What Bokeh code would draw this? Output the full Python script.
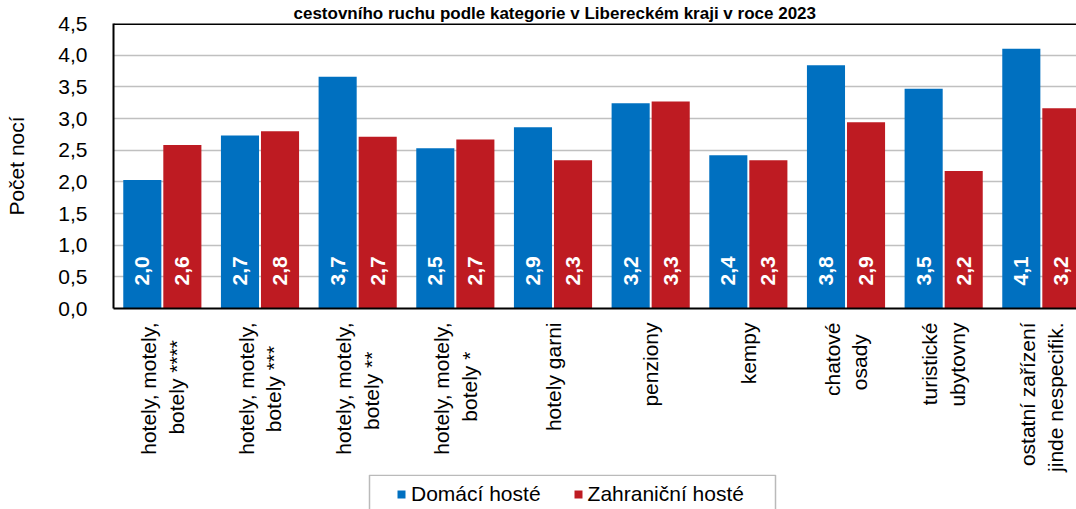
from math import pi
from bokeh.plotting import figure
from bokeh.layouts import column
from bokeh.models import (ColumnDataSource, Range1d, FixedTicker,
                          CustomJSTickFormatter, Legend, LegendItem, Span,
                          BoxAnnotation)
from bokeh.transform import dodge
from bokeh.core.properties import value
from bokeh.embed import file_html
from bokeh.resources import INLINE

# ---------------- data ----------------
title_text = "cestovního ruchu podle kategorie v Libereckém kraji v roce 2023"
y_axis_title = "Počet nocí"
categories = [
    "hotely, motely,\nbotely ****",
    "hotely, motely,\nbotely ***",
    "hotely, motely,\nbotely **",
    "hotely, motely,\nbotely *",
    "hotely garni",
    "penziony",
    "kempy",
    "chatové\nosady",
    "turistické\nubytovny",
    "ostatní zařízení\njinde nespecifik.",
]
series_names = ["Domácí hosté", "Zahraniční hosté"]
domaci = [2.03, 2.73, 3.66, 2.53, 2.86, 3.24, 2.42, 3.84, 3.47, 4.10]
zahranicni = [2.58, 2.80, 2.71, 2.67, 2.34, 3.27, 2.34, 2.94, 2.17, 3.16]
y_ticks = [0.0, 0.5, 1.0, 1.5, 2.0, 2.5, 3.0, 3.5, 4.0, 4.5]
colors = ["#0070C0", "#BE1B22"]

# no-break spaces appended to a short second line so it sits centred
# under the first one (the rotated labels are end-aligned by Bokeh)
second_line_pad = [3, 4, 5, 5, 0, 0, 0, 2, 0, 0]

FONT = "Liberation Sans"
FS = "21px"


def fmt(v):
    return f"{v:.1f}".replace(".", ",")


n = len(categories)
pos = [i + 0.5 for i in range(n)]
tick_labels = [c + "\u00a0" * k if "\n" in c else c
               for c, k in zip(categories, second_line_pad)]

src = ColumnDataSource(dict(
    x=pos,
    dom=domaci,
    zah=zahranicni,
    dom_lbl=[fmt(v) for v in domaci],
    zah_lbl=[fmt(v) for v in zahranicni],
    base=[0.0] * n,
))

fig = figure(width=1076, height=474,
             x_range=Range1d(0, 9.86), y_range=Range1d(0, 4.5),
             output_backend="svg", toolbar_location=None,
             min_border_left=113, min_border_right=0,
             min_border_top=22, min_border_bottom=164,
             outline_line_color=None, background_fill_color="white",
             border_fill_color="white")

# title (visible part of the original title)
fig.title.text = title_text
fig.title.text_font = FONT
fig.title.text_font_size = "17px"
fig.title.text_font_style = "bold"
fig.title.text_color = "black"
fig.title.align = "left"
fig.title.offset = 180
fig.title.standoff = 2

# bars
off = 0.205
bw = 0.39
fig.vbar(x=dodge("x", -off, range=fig.x_range), top="dom", width=bw,
         source=src, fill_color=colors[0], line_color=None)
fig.vbar(x=dodge("x", off, range=fig.x_range), top="zah", width=bw,
         source=src, fill_color=colors[1], line_color=None)

# value labels
for col, dx in (("dom_lbl", -off), ("zah_lbl", off)):
    fig.text(x=dodge("x", dx, range=fig.x_range), y="base", text=col, source=src,
             angle=pi / 2, text_align="left", text_baseline="middle",
             y_offset=-23, text_color="white", text_font=value(FONT),
             text_font_style="bold", text_font_size=FS)

# x axis
xa = fig.xaxis[0]
xa.ticker = FixedTicker(ticks=pos)
xa.major_label_overrides = {x: c for x, c in zip(pos, tick_labels)}
xa.major_label_orientation = pi / 2
xa.major_label_text_font = FONT
xa.major_label_text_font_size = FS
xa.major_label_text_color = "black"
xa.major_label_standoff = 14
xa.major_tick_out = 0
xa.major_tick_in = 0
xa.minor_tick_line_color = None
xa.axis_line_color = "black"
xa.axis_line_width = 2

# y axis
ya = fig.yaxis[0]
ya.ticker = FixedTicker(ticks=y_ticks)
ya.formatter = CustomJSTickFormatter(code="return tick.toFixed(1).replace('.', ',');")
ya.major_label_text_font = FONT
ya.major_label_text_font_size = FS
ya.major_label_text_color = "black"
ya.major_label_standoff = 26
ya.major_tick_out = 0
ya.major_tick_in = 0
ya.minor_tick_line_color = None
ya.axis_line_color = "black"
ya.axis_line_width = 2
ya.axis_label = y_axis_title
ya.axis_label_text_font = FONT
ya.axis_label_text_font_size = FS
ya.axis_label_text_font_style = "normal"
ya.axis_label_text_color = "black"
ya.axis_label_standoff = 27

# grid
fig.xgrid.visible = False
fig.ygrid.grid_line_color = "#c0c0c0"
fig.ygrid.grid_line_width = 1.5

# top border of the plot area
fig.add_layout(Span(location=y_ticks[-1], dimension="width",
                    line_color="black", line_width=3))

# ---------------- legend strip below the chart ----------------
# (its frame is aligned with the chart's frame: x data = page pixels,
#  y data = minus pixels below the strip's top)
leg = figure(width=1076, height=35, x_range=Range1d(113, 1076),
             y_range=Range1d(-35, 0), x_axis_type=None, y_axis_type=None,
             output_backend="svg", toolbar_location=None,
             min_border=0, outline_line_color=None,
             background_fill_color="white", border_fill_color="white")
leg.xgrid.visible = False
leg.ygrid.visible = False
# proxies for the legend swatches (they lie outside this strip's view)
r_dom = leg.vbar(x="x", top="dom", width=bw, source=src,
                 fill_color=colors[0], line_color=None)
r_zah = leg.vbar(x="x", top="zah", width=bw, source=src,
                 fill_color=colors[1], line_color=None)
leg.add_layout(BoxAnnotation(left=369, right=775, top=-0.8, bottom=-60,
                             fill_alpha=0, line_color="#1a1a1a",
                             line_width=1.5))
legend = Legend(items=[LegendItem(label=series_names[0], renderers=[r_dom]),
                       LegendItem(label=series_names[1], renderers=[r_zah])],
                location=(283, 3), orientation="horizontal",
                padding=4, spacing=32, margin=0,
                glyph_width=10, glyph_height=10, label_standoff=5,
                label_text_font=FONT, label_text_font_size=FS,
                label_text_color="black",
                border_line_color=None, background_fill_alpha=0)
leg.add_layout(legend, "center")

p = column(fig, leg, spacing=0)
open("out.html", "w").write(file_html(p, INLINE))
